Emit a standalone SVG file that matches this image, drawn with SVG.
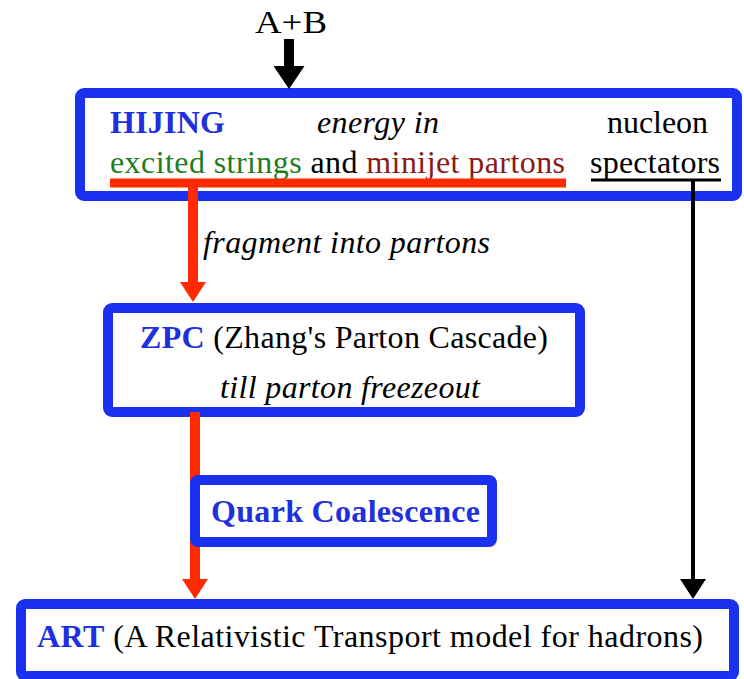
<svg xmlns="http://www.w3.org/2000/svg" width="744" height="679" viewBox="0 0 744 679">
  <style>
    .box { fill: none; stroke: #1a32f0; stroke-width: 10; }
    .t { font-family: "Liberation Serif", "Times New Roman", serif; font-size: 32px; fill: #000; }
    .b { font-weight: bold; fill: #1f30e0; }
    .i { font-style: italic; }
    .red { stroke: #ff2a00; fill: none; }
    .blk { stroke: #000; fill: none; }
  </style>
  <defs>
    <marker id="hRed" markerUnits="userSpaceOnUse" viewBox="0 0 20 26" markerWidth="20" markerHeight="26" refX="0" refY="13" orient="auto">
      <path d="M0,0 L20,13 L0,26 z" fill="#ff2a00"/>
    </marker>
    <marker id="hBlk" markerUnits="userSpaceOnUse" viewBox="0 0 20 26" markerWidth="20" markerHeight="26" refX="0" refY="13" orient="auto">
      <path d="M0,0 L20,13 L0,26 z" fill="#000"/>
    </marker>
    <marker id="hBig" markerUnits="userSpaceOnUse" viewBox="0 0 23 31" markerWidth="23" markerHeight="31" refX="0" refY="15.5" orient="auto">
      <path d="M0,0 L23,15.5 L0,31 z" fill="#000"/>
    </marker>
  </defs>

  <g id="input">
    <text class="t" x="255" y="33" textLength="72" lengthAdjust="spacingAndGlyphs">A+B</text>
  </g>

  <g id="hijing">
    <rect class="box" x="80" y="93" width="657" height="103" rx="4"/>
    <text class="t b" x="110" y="133" textLength="115">HIJING</text>
    <text class="t i" x="317" y="133" textLength="122">energy in</text>
    <text class="t" x="607" y="133" textLength="101">nucleon</text>
    <text class="t" x="110" y="173" textLength="455"><tspan fill="#1e7d1e">excited strings</tspan> and <tspan fill="#8a1a1a">minijet partons</tspan></text>
    <text class="t" x="590" y="173" textLength="130">spectators</text>
  </g>

  <g id="zpc">
    <rect class="box" x="108" y="308" width="472" height="104" rx="4"/>
    <text class="t" x="140" y="348" textLength="408"><tspan class="b">ZPC</tspan> (Zhang's Parton Cascade)</text>
    <text class="t i" x="220" y="398" textLength="260">till parton freezeout</text>
  </g>

  <g id="connectors">
    <line class="blk" x1="289" y1="39" x2="289" y2="66" stroke-width="10" marker-end="url(#hBig)"/>
    <line class="red" x1="110" y1="183" x2="566" y2="183" stroke-width="9"/>
    <line class="red" x1="193" y1="183" x2="193" y2="282" stroke-width="10" marker-end="url(#hRed)"/>
    <text class="t i" x="203" y="253" textLength="287">fragment into partons</text>
    <line class="blk" x1="591" y1="180" x2="721" y2="180" stroke-width="3"/>
    <line class="blk" x1="693" y1="180" x2="693" y2="579" stroke-width="4" marker-end="url(#hBlk)"/>
    <line class="red" x1="195" y1="412" x2="195" y2="579" stroke-width="10" marker-end="url(#hRed)"/>
  </g>

  <g id="quark">
    <rect class="box" x="195" y="480" width="297" height="62" rx="3" style="fill:#fff"/>
    <text class="t b" x="211" y="522" textLength="269">Quark Coalescence</text>
  </g>

  <g id="art">
    <rect class="box" x="21" y="604" width="713" height="72" rx="4"/>
    <text class="t" x="37" y="647" textLength="666"><tspan class="b">ART</tspan> (A Relativistic Transport model for hadrons)</text>
  </g>
</svg>
